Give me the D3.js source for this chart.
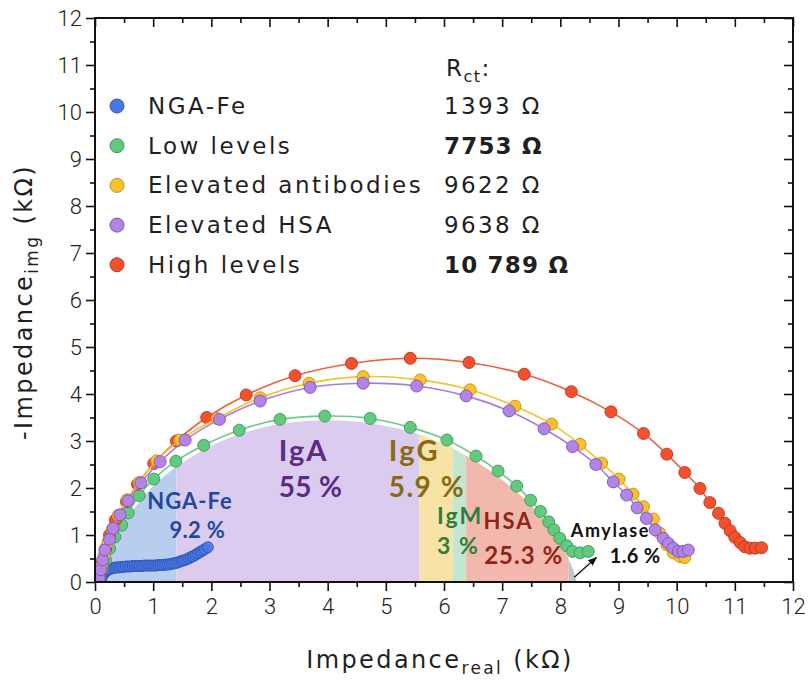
<!DOCTYPE html>
<html>
<head>
<meta charset="utf-8">
<script src="https://cdn.jsdelivr.net/npm/d3@7"></script>
<style>
  body { margin: 0; background: #fff; }
  svg text { fill: #1f1f1f; }
</style>
</head>
<body>
<svg id="chart" width="810" height="681"></svg>
<script>
// ---- Nyquist data (kΩ) ----
const xTickValues = [0, 1, 2, 3, 4, 5, 6, 7, 8, 9, 10, 11, 12];
const yTickValues = [0, 1, 2, 3, 4, 5, 6, 7, 8, 9, 10, 11, 12];

const seriesNames = ["NGA-Fe", "Low levels", "Elevated antibodies", "Elevated HSA", "High levels"];
const rctValues = ["1393 Ω", "7753 Ω", "9622 Ω", "9638 Ω", "10 789 Ω"];
const rctBold = [false, true, false, false, true];

const ngaFe = [
  [0.09, 0.02], [0.11, 0.08], [0.13, 0.14], [0.15, 0.18], [0.18, 0.22], [0.21, 0.25],
  [0.25, 0.27], [0.29, 0.29], [0.33, 0.30], [0.37, 0.31], [0.41, 0.31], [0.45, 0.32],
  [0.49, 0.32], [0.53, 0.33], [0.57, 0.33], [0.61, 0.33], [0.65, 0.34], [0.69, 0.34],
  [0.73, 0.34], [0.77, 0.34], [0.81, 0.34], [0.85, 0.35], [0.89, 0.35], [0.93, 0.35],
  [0.97, 0.35], [1.01, 0.35], [1.05, 0.35], [1.09, 0.36], [1.13, 0.36], [1.17, 0.36],
  [1.21, 0.37], [1.25, 0.37], [1.29, 0.38], [1.33, 0.39], [1.37, 0.40], [1.41, 0.41],
  [1.45, 0.43], [1.49, 0.45], [1.53, 0.46], [1.57, 0.48], [1.61, 0.50], [1.65, 0.53],
  [1.69, 0.55], [1.73, 0.58], [1.77, 0.61], [1.81, 0.64], [1.85, 0.67], [1.89, 0.70],
  [1.94, 0.74]
];

const lowLevels = [
  [0.08, 0.10], [0.12, 0.27], [0.18, 0.47], [0.25, 0.71], [0.34, 0.96], [0.46, 1.21],
  [0.57, 1.47], [0.76, 1.84], [1.01, 2.19], [1.39, 2.57], [1.87, 2.91], [2.48, 3.23],
  [3.18, 3.46], [3.95, 3.53], [4.73, 3.48], [5.42, 3.29], [6.05, 3.02], [6.55, 2.68],
  [6.93, 2.36], [7.25, 2.04], [7.49, 1.74], [7.66, 1.50], [7.80, 1.28], [7.89, 1.11],
  [7.99, 0.93], [8.11, 0.77], [8.21, 0.65], [8.34, 0.62], [8.48, 0.65]
];

const elevatedAntibodies = [
  [0.07, 0.10], [0.11, 0.33], [0.16, 0.58], [0.22, 0.84], [0.30, 1.12], [0.40, 1.42],
  [0.55, 1.75], [0.76, 2.12], [1.06, 2.58], [1.46, 3.02], [2.10, 3.48], [2.84, 3.92],
  [3.68, 4.23], [4.61, 4.37], [5.59, 4.30], [6.45, 4.09], [7.22, 3.74], [7.85, 3.36],
  [8.34, 2.93], [8.71, 2.53], [9.01, 2.19], [9.25, 1.87], [9.43, 1.60], [9.60, 1.34],
  [9.71, 1.04], [9.83, 0.79], [9.94, 0.62], [10.06, 0.54], [10.14, 0.52]
];

const elevatedHSA = [
  [0.07, 0.08], [0.10, 0.26], [0.13, 0.47], [0.17, 0.68], [0.25, 0.91], [0.31, 1.14],
  [0.43, 1.43], [0.57, 1.73], [0.79, 2.11], [1.12, 2.56], [1.55, 3.02], [2.14, 3.46],
  [2.84, 3.85], [3.70, 4.14], [4.61, 4.23], [5.53, 4.17], [6.38, 3.96], [7.12, 3.64],
  [7.72, 3.26], [8.21, 2.88], [8.61, 2.50], [8.91, 2.13], [9.14, 1.85], [9.32, 1.58],
  [9.48, 1.35], [9.63, 1.11], [9.77, 0.93], [9.86, 0.82], [9.94, 0.72], [10.03, 0.65],
  [10.11, 0.65], [10.20, 0.68]
];

const highLevels = [
  [0.08, 0.15], [0.12, 0.40], [0.18, 0.70], [0.25, 1.00], [0.35, 1.32], [0.54, 1.71],
  [0.73, 2.08], [1.01, 2.52], [1.40, 3.00], [1.92, 3.50], [2.60, 3.98], [3.44, 4.39],
  [4.41, 4.65], [5.42, 4.76], [6.43, 4.67], [7.38, 4.42], [8.19, 4.05], [8.87, 3.62],
  [9.43, 3.16], [9.83, 2.72], [10.14, 2.33], [10.40, 1.99], [10.57, 1.69], [10.72, 1.46],
  [10.83, 1.25], [10.92, 1.09], [11.00, 0.95], [11.09, 0.84], [11.17, 0.75], [11.26, 0.72],
  [11.35, 0.72], [11.46, 0.73]
];

// Fitted semicircle under the low-level spectrum, split into contributions
const fitCurve = [
  [0.08, 0.00], [0.12, 0.30], [0.18, 0.55], [0.30, 0.88], [0.50, 1.28], [0.76, 1.70],
  [1.00, 2.04], [1.40, 2.45], [2.00, 2.90], [2.50, 3.15], [3.00, 3.32], [3.50, 3.41],
  [4.00, 3.44], [4.50, 3.41], [5.00, 3.32], [5.50, 3.17], [6.00, 2.93], [6.50, 2.60],
  [7.00, 2.17], [7.50, 1.63], [7.80, 1.18], [8.00, 0.82], [8.14, 0.50], [8.23, 0.22],
  [8.28, 0.00]
];
const regionNames = ["NGA-Fe", "IgA", "IgG", "IgM", "HSA", "Amylase"];
const regionShares = ["9.2 %", "55 %", "5.9 %", "3 %", "25.3 %", "1.6 %"];
const regionEdges = [0, 1.40, 5.58, 6.15, 6.38, 8.14, 8.30];

// ---- styling ----
const seriesData = [ngaFe, lowLevels, elevatedAntibodies, elevatedHSA, highLevels];
const seriesFill = ["#4a78e2", "#62c97e", "#f9c22a", "#b384e6", "#f2512e"];
const seriesStroke = ["#2d55b5", "#3b9a57", "#c4901a", "#7c54b8", "#c2341a"];
const seriesLine = ["#5a82e0", "#70c98c", "#f2c233", "#a77ddc", "#ee5f3e"];
const regionFill = ["#b9cdef", "#dbcbee", "#f8e3a6", "#c3e6cf", "#f3b8ad", "#c4c4c4"];
const regionText = ["#234a9a", "#5b2b86", "#8a6a12", "#2f7f3c", "#8f2418", "#111"];

const svg = d3.select("#chart");
const plotLeft = 95, plotRight = 793, plotTop = 18, plotBottom = 582;
const x = d3.scaleLinear().domain([0, 12]).range([plotLeft, plotRight]);
const y = d3.scaleLinear().domain([0, 12]).range([plotBottom, plotTop]);

const defs = svg.append("defs");
defs.append("clipPath").attr("id", "plotClip")
  .append("rect").attr("x", plotLeft).attr("y", plotTop)
  .attr("width", plotRight - plotLeft).attr("height", plotBottom - plotTop);

// contribution areas
const area = d3.area().x(d => x(d[0])).y0(y(0)).y1(d => y(d[1])).curve(d3.curveCatmullRom);
regionNames.forEach((name, i) => {
  const id = "reg" + i;
  defs.append("clipPath").attr("id", id).append("rect")
    .attr("x", x(regionEdges[i])).attr("y", plotTop)
    .attr("width", x(regionEdges[i + 1]) - x(regionEdges[i]))
    .attr("height", plotBottom - plotTop);
  svg.append("path").datum(fitCurve)
    .attr("clip-path", `url(#${id})`)
    .attr("d", area)
    .attr("fill", regionFill[i]);
});

// region labels (name and share), anchored at their left edge in kΩ units
const labelFont = "'Lato', 'Open Sans', sans-serif";
const regionLabelPos = [
  { nx: 0.90, ny: 1.56, ns: 22, nls: 1.0, px: 1.28, py: 0.94, ps: 22, pls: 0.3 },
  { nx: 3.16, ny: 2.58, ns: 29, nls: 2.0, px: 3.16, py: 1.80, ps: 28, pls: 0.3 },
  { nx: 5.05, ny: 2.58, ns: 29, nls: 2.3, px: 5.05, py: 1.80, ps: 28, pls: 1.5 },
  { nx: 5.88, ny: 1.23, ns: 23, nls: 2.0, px: 5.88, py: 0.59, ps: 23, pls: 1.5 },
  { nx: 6.68, ny: 1.13, ns: 22, nls: 2.0, px: 6.69, py: 0.38, ps: 24, pls: 1.0 },
  { nx: 8.18, ny: 0.96, ns: 18, nls: 1.6, px: 8.85, py: 0.40, ps: 20, pls: 0.3 }
];
regionNames.forEach((name, i) => {
  const p = regionLabelPos[i];
  svg.append("text").attr("x", x(p.nx)).attr("y", y(p.ny))
    .attr("font-family", labelFont).attr("font-weight", 700)
    .attr("font-size", p.ns).attr("letter-spacing", p.nls)
    .style("fill", regionText[i]).text(name);
  svg.append("text").attr("x", x(p.px)).attr("y", y(p.py))
    .attr("font-family", labelFont).attr("font-weight", 700)
    .attr("font-size", p.ps).attr("letter-spacing", p.pls)
    .style("fill", regionText[i]).text(regionShares[i]);
});

// arrow to the amylase slice
defs.append("marker").attr("id", "arrowHead").attr("viewBox", "0 0 10 10")
  .attr("refX", 9).attr("refY", 5).attr("markerWidth", 7).attr("markerHeight", 7)
  .attr("orient", "auto").append("path").attr("d", "M0,1 L10,5 L0,9 Z").attr("fill", "#111");
svg.append("line")
  .attr("x1", x(8.24)).attr("y1", y(0.1)).attr("x2", x(8.62)).attr("y2", y(0.52))
  .attr("stroke", "#111").attr("stroke-width", 1.3).attr("marker-end", "url(#arrowHead)");

// spectra
const line = d3.line().x(d => x(d[0])).y(d => y(d[1])).curve(d3.curveCatmullRom);
const drawOrder = [0, 1, 4, 2, 3];
const plot = svg.append("g").attr("clip-path", "url(#plotClip)");
drawOrder.forEach(i => {
  const g = plot.append("g");
  g.append("path").datum(seriesData[i]).attr("d", line)
    .attr("fill", "none").attr("stroke", seriesLine[i]).attr("stroke-width", 1.6);
  g.selectAll("circle").data(seriesData[i]).join("circle")
    .attr("cx", d => x(d[0])).attr("cy", d => y(d[1]))
    .attr("r", i === 0 ? 5.5 : 6)
    .attr("fill", seriesFill[i]).attr("stroke", seriesStroke[i]).attr("stroke-width", 0.9)
    .attr("fill-opacity", i === 0 ? 0.9 : 1);
});

// axes
const tickFont = "'Roboto', 'Open Sans', sans-serif";
const minorTicks = d3.range(0, 24).map(k => k * 0.5 + 0.5).filter(v => v % 1 !== 0);
function styleAxis(g) {
  g.select(".domain").remove();
  g.selectAll("line").attr("stroke", "#111").attr("stroke-width", 1.6);
  g.selectAll("text").attr("font-family", tickFont).attr("font-weight", 300)
    .attr("font-size", 22).style("fill", "#222");
}
svg.append("g").attr("transform", `translate(0,${plotBottom})`)
  .call(d3.axisBottom(x).tickValues(xTickValues).tickSize(9).tickPadding(7).tickFormat(d3.format("d"))).call(styleAxis);
svg.append("g").attr("transform", `translate(0,${plotBottom})`)
  .call(d3.axisBottom(x).tickValues(minorTicks).tickSize(5).tickFormat("")).call(styleAxis);
svg.append("g").attr("transform", `translate(${plotLeft},0)`)
  .call(d3.axisLeft(y).tickValues(yTickValues).tickSize(9).tickPadding(4).tickFormat(d3.format("d"))).call(styleAxis);
svg.append("g").attr("transform", `translate(${plotLeft},0)`)
  .call(d3.axisLeft(y).tickValues(minorTicks).tickSize(5).tickFormat("")).call(styleAxis);
// mirrored inner ticks on top and right
svg.append("g").attr("transform", `translate(0,${plotTop})`)
  .call(d3.axisBottom(x).tickValues(xTickValues).tickSize(9).tickFormat("")).call(styleAxis);
svg.append("g").attr("transform", `translate(0,${plotTop})`)
  .call(d3.axisBottom(x).tickValues(minorTicks).tickSize(5).tickFormat("")).call(styleAxis);
svg.append("g").attr("transform", `translate(${plotRight},0)`)
  .call(d3.axisLeft(y).tickValues(yTickValues).tickSize(9).tickFormat("")).call(styleAxis);
svg.append("g").attr("transform", `translate(${plotRight},0)`)
  .call(d3.axisLeft(y).tickValues(minorTicks).tickSize(5).tickFormat("")).call(styleAxis);

svg.append("rect").attr("x", plotLeft).attr("y", plotTop)
  .attr("width", plotRight - plotLeft).attr("height", plotBottom - plotTop)
  .attr("fill", "none").attr("stroke", "#111").attr("stroke-width", 2);

// axis titles
const titleFont = "'DejaVu Sans', sans-serif";
const xt = svg.append("text").attr("x", 440).attr("y", 668)
  .attr("text-anchor", "middle").attr("font-family", titleFont).attr("font-size", 24)
  .attr("letter-spacing", 2.4);
xt.append("tspan").text("Impedance");
xt.append("tspan").attr("font-size", 17).attr("dy", 6).text("real");
xt.append("tspan").attr("dy", -6).text(" (kΩ)");

const yt = svg.append("text").attr("transform", `translate(32,${(plotTop + plotBottom) / 2 + 2}) rotate(-90)`)
  .attr("text-anchor", "middle").attr("font-family", titleFont).attr("font-size", 24)
  .attr("letter-spacing", 2.4);
yt.append("tspan").text("-Impedance");
yt.append("tspan").attr("font-size", 17).attr("dy", 6).text("img");
yt.append("tspan").attr("dy", -6).text(" (kΩ)");

// legend with charge-transfer resistances
const legendFont = "'DejaVu Sans', sans-serif";
const rowY = d => 106 + d * 39.7;
const rt = svg.append("text").attr("x", 446).attr("y", 76)
  .attr("font-family", legendFont).attr("font-size", 23).attr("letter-spacing", 1.5);
rt.append("tspan").text("R");
rt.append("tspan").attr("font-size", 16).attr("dy", 6).text("ct");
rt.append("tspan").attr("dy", -6).text(":");

seriesNames.forEach((name, i) => {
  svg.append("circle").attr("cx", 117).attr("cy", rowY(i)).attr("r", 7)
    .attr("fill", seriesFill[i]).attr("stroke", seriesStroke[i]).attr("stroke-width", 1);
  svg.append("text").attr("x", 148).attr("y", rowY(i) + 8)
    .attr("font-family", legendFont).attr("font-size", 23).attr("letter-spacing", 2.5).text(name);
  svg.append("text").attr("x", 444).attr("y", rowY(i) + 8)
    .attr("font-family", legendFont).attr("font-size", 23)
    .attr("letter-spacing", rctBold[i] ? 1.2 : 2.4)
    .attr("font-weight", rctBold[i] ? 700 : 400).text(rctValues[i]);
});
</script>
</body>
</html>
